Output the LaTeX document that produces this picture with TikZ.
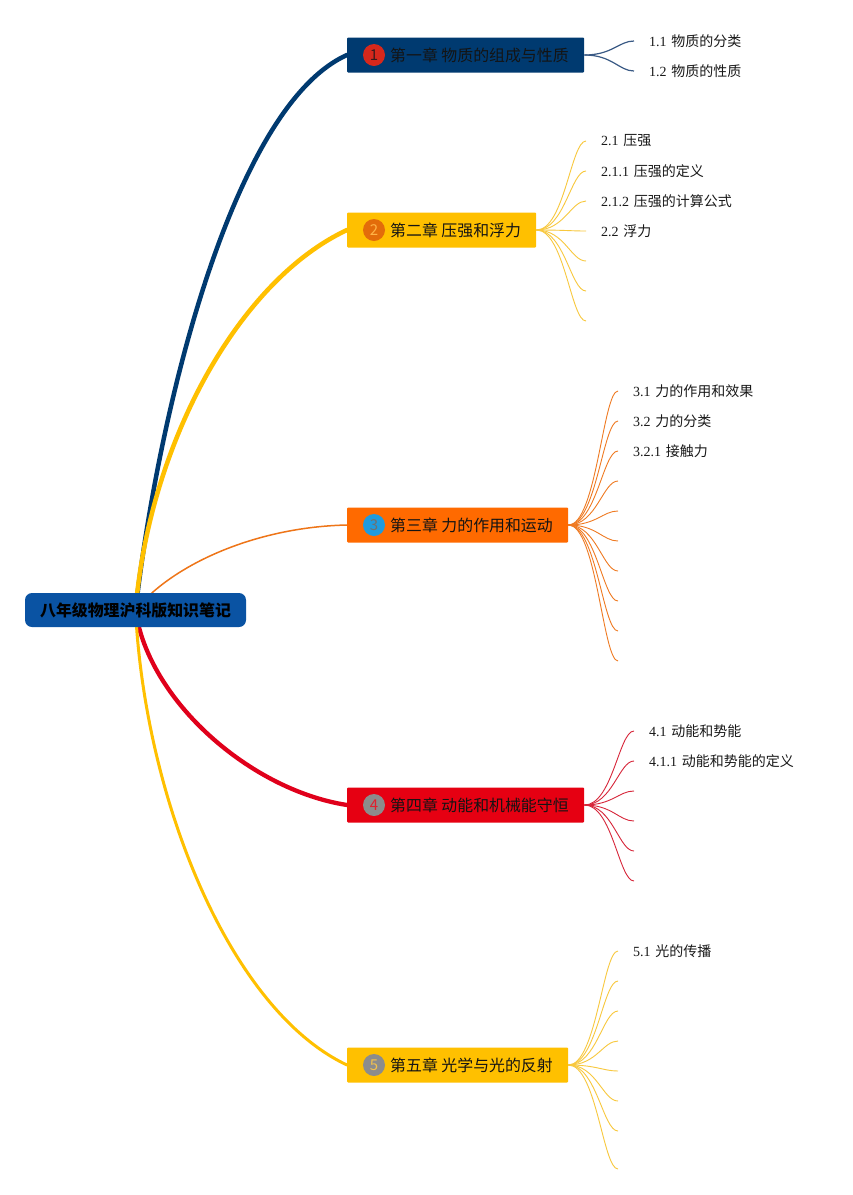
\documentclass[tikz,border=0pt]{standalone}
\usepackage{fontspec}
\usetikzlibrary{calc}
\newfontfamily\cjk{Noto Sans CJK SC}
\newfontfamily\lser{Liberation Serif}
\newcommand\sublabel[2]{{\lser #1} {\cjk #2}}
\definecolor{cnavy}{HTML}{003A70}
\definecolor{cnavyl}{HTML}{3A5A85}
\definecolor{cyel}{HTML}{FFC000}
\definecolor{cyell}{HTML}{F8C83E}
\definecolor{corg}{HTML}{FF6A00}
\definecolor{corgc}{HTML}{EE7518}
\definecolor{corgl}{HTML}{EF7A22}
\definecolor{cred}{HTML}{E60012}
\definecolor{credc}{HTML}{E0001B}
\definecolor{credl}{HTML}{D7263A}
\definecolor{croot}{HTML}{0A53A3}
\definecolor{bgray}{HTML}{8C8C8C}
\pgfdeclarelayer{bg}
\pgfdeclarelayer{lines}
\pgfsetlayers{bg,lines,main}
\newcommand\twigs[4]{%
  \foreach \yy [count=\i] in {#4} {%
    \coordinate (#1k\i) at (#2+50,\yy);
    \draw[twig,#3] (#1.east) .. controls ($(#1.east)+(28,0)$) and (#2+35,\yy) .. (#1k\i);
  }}
\begin{document}
\begin{tikzpicture}[x=1pt,y=-1pt,
  chap/.style={rectangle, anchor=west, minimum height=35pt, inner sep=0pt, rounded corners=1pt},
  badge/.style={circle, minimum size=22pt, inner sep=0pt, font=\cjk\fontsize{15}{15}\selectfont},
  title/.style={anchor=west, inner sep=0pt, font=\cjk\fontsize{15.9}{16}\selectfont, text=black!92},
  sub/.style={anchor=west, inner sep=0pt, font=\fontsize{14}{14}\selectfont, text=black!90},
  mainline/.style={line cap=round},
  twig/.style={line width=0.9pt}]
\begin{pgfonlayer}{bg}
  \fill[white] (0,0) rectangle (853,1195);
\end{pgfonlayer}
\useasboundingbox (0,0) rectangle (853,1195);

% root
\node[rectangle, rounded corners=7pt, fill=croot, minimum width=221pt, minimum height=34pt, inner sep=0pt,
  font=\cjk\bfseries\fontsize{15.9}{16}\selectfont, text=black] (root) at (135.5,610) {八年级物理沪科版知识笔记};

% chapter boxes
\node[chap, fill=cnavy, minimum width=237pt] (c1) at (347,55) {};
\node[chap, fill=cyel, minimum width=189pt] (c2) at (347,230) {};
\node[chap, fill=corg, minimum width=221pt] (c3) at (347,525) {};
\node[chap, fill=cred, minimum width=237pt] (c4) at (347,805) {};
\node[chap, fill=cyel, minimum width=221pt] (c5) at (347,1065) {};

% badges
\node[badge, fill={rgb,255:red,215;green,40;blue,28}, text={rgb,255:red,58;green,26;blue,26}] (b1) at (374,55) {1};
\node[badge, fill={rgb,255:red,227;green,108;blue,10}, text={rgb,255:red,255;green,179;blue,71}] (b2) at (374,230) {2};
\node[badge, fill={rgb,255:red,31;green,155;blue,222}, text={rgb,255:red,112;green,112;blue,112}] (b3) at (374,525) {3};
\node[badge, fill=bgray, text={rgb,255:red,224;green,32;blue,46}] (b4) at (374,805) {4};
\node[badge, fill=bgray, text={rgb,255:red,242;green,193;blue,78}] (b5) at (374,1065) {5};

% titles
\node[title] (t1) at (390,55) {第一章 物质的组成与性质};
\node[title] (t2) at (390,230) {第二章 压强和浮力};
\node[title] (t3) at (390,525) {第三章 力的作用和运动};
\node[title] (t4) at (390,805) {第四章 动能和机械能守恒};
\node[title] (t5) at (390,1065) {第五章 光学与光的反射};

\begin{pgfonlayer}{lines}
  \draw[mainline, line width=4.5pt, cnavy] (root.center) .. controls (160,400) and (235,105) .. (c1.west);
  \draw[mainline, line width=4.5pt, cyel] (root.center) .. controls (150,440) and (240,280) .. (c2.west);
  \draw[mainline, line width=1.5pt, corgc] (root.center) .. controls (172,565) and (255,527) .. (c3.west);
  \draw[mainline, line width=4.3pt, credc] (root.center) .. controls (148,700) and (250,790) .. (c4.west);
  \draw[mainline, line width=3pt, cyel] (root.center) .. controls (145,800) and (230,1010) .. (c5.west);

  \twigs{c1}{584}{cnavyl, line width=1.2pt}{41,71}
  \twigs{c2}{536}{cyell}{141,171,201,231,261,291,321}
  \twigs{c3}{568}{corgl}{391,421,451,481,511,541,571,601,631,661}
  \twigs{c4}{584}{credl}{731,761,791,821,851,881}
  \twigs{c5}{568}{cyell}{951,981,1011,1041,1071,1101,1131,1169}
\end{pgfonlayer}

% labels
\node[sub] (l11) at ($(c1k1)+(15,0)$) {\sublabel{1.1}{物质的分类}};
\node[sub] (l12) at ($(c1k2)+(15,0)$) {\sublabel{1.2}{物质的性质}};
\node[sub] (l21) at ($(c2k1)+(15,0)$) {\sublabel{2.1}{压强}};
\node[sub] (l22) at ($(c2k2)+(15,0)$) {\sublabel{2.1.1}{压强的定义}};
\node[sub] (l23) at ($(c2k3)+(15,0)$) {\sublabel{2.1.2}{压强的计算公式}};
\node[sub] (l24) at ($(c2k4)+(15,0)$) {\sublabel{2.2}{浮力}};
\node[sub] (l31) at ($(c3k1)+(15,0)$) {\sublabel{3.1}{力的作用和效果}};
\node[sub] (l32) at ($(c3k2)+(15,0)$) {\sublabel{3.2}{力的分类}};
\node[sub] (l33) at ($(c3k3)+(15,0)$) {\sublabel{3.2.1}{接触力}};
\node[sub] (l41) at ($(c4k1)+(15,0)$) {\sublabel{4.1}{动能和势能}};
\node[sub] (l42) at ($(c4k2)+(15,0)$) {\sublabel{4.1.1}{动能和势能的定义}};
\node[sub] (l51) at ($(c5k1)+(15,0)$) {\sublabel{5.1}{光的传播}};
\end{tikzpicture}
\end{document}
